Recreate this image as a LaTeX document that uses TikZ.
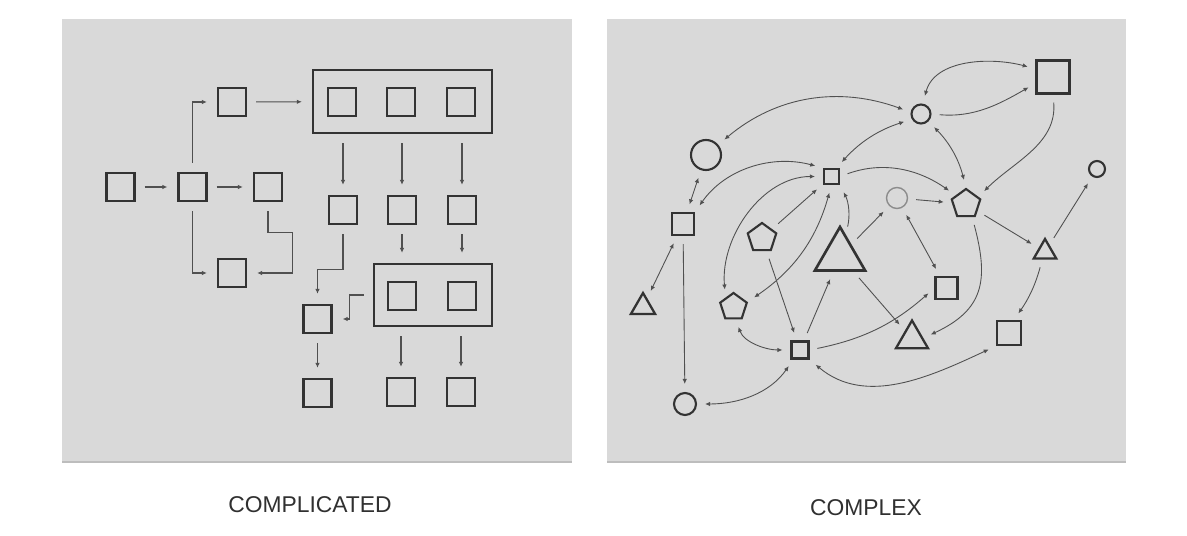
\documentclass[tikz,border=0pt]{standalone}
\usepackage{fontspec}
\setmainfont{Liberation Sans}
\usetikzlibrary{arrows.meta, shapes.geometric}
\definecolor{panelgray}{HTML}{D9D9D9}
\definecolor{edgegray}{HTML}{BDBDBD}
\definecolor{nodegray}{HTML}{333333}
\definecolor{linkgray}{HTML}{505050}
\definecolor{fadegray}{HTML}{8C8C8C}
\definecolor{textgray}{HTML}{303030}

\begin{document}
\begin{tikzpicture}[
        x=0.02cm, y=0.02cm,
        panel/.style = {fill=panelgray, draw=none},
        rim/.style   = {draw=edgegray, line width=1.2pt},
        sq/.style    = {draw=nodegray, line width=1.3pt, minimum size=0.56cm, inner sep=0},
        grp/.style   = {draw=nodegray, line width=1.3pt, inner sep=0},
        rsq/.style   = {draw=nodegray, line width=1.2pt, inner sep=0},
        ring/.style  = {circle, draw=nodegray, line width=1.2pt, inner sep=0},
        penta/.style = {regular polygon, regular polygon sides=5, draw=nodegray, line width=1.2pt, inner sep=0},
        trio/.style  = {regular polygon, regular polygon sides=3, draw=nodegray, line width=1.3pt, inner sep=0},
        ar/.style    = {-{Latex[length=1mm, width=0.9mm]}, draw=linkgray, line width=0.6pt, shorten <=0.18cm, shorten >=0.2cm},
        lk1/.style   = {-{Latex[length=1mm, width=0.9mm]}, draw=linkgray, line width=0.5pt, shorten <=0.16cm, shorten >=0.16cm},
        lk2/.style   = {{Latex[length=1mm, width=0.9mm]}-{Latex[length=1mm, width=0.9mm]}, draw=linkgray, line width=0.5pt, shorten <=0.16cm, shorten >=0.16cm},
        lbl/.style   = {font=\fontsize{13pt}{15pt}\selectfont, text=textgray}
    ]
        \useasboundingbox (0,0) rectangle (1187,-536);

        \fill[panel] (62,-19) rectangle (572,-462);
        \fill[panel] (607,-19) rectangle (1126,-462);
        \draw[rim] (62,-462) -- (572,-462);
        \draw[rim] (607,-462) -- (1126,-462);

        % complicated
        \node[sq] (a1) at (120.5,-187) {};
        \node[sq] (a2) at (192.5,-187) {};
        \node[sq] (a3) at (268,-187)   {};
        \node[sq] (up) at (232,-102)   {};
        \node[sq] (dn) at (232,-273)   {};

        \node[grp, minimum width=3.58cm, minimum height=1.26cm] (g1) at (402.5,-101.5) {};
        \node[sq] (r1) at (342,-102) {};
        \node[sq] (r2) at (401,-102) {};
        \node[sq] (r3) at (461,-102) {};

        \node[sq] (m1) at (343,-210) {};
        \node[sq] (m2) at (402,-210) {};
        \node[sq] (m3) at (462,-210) {};

        \node[grp, minimum width=2.36cm, minimum height=1.24cm] (g2) at (433,-295) {};
        \node[sq] (k1) at (402,-296) {};
        \node[sq] (k2) at (462,-296) {};
        \node[sq] (lf) at (317.5,-319) {};

        \node[sq] (z1) at (317.5,-393) {};
        \node[sq] (z2) at (401,-392)   {};
        \node[sq] (z3) at (461,-392)   {};

        \draw[ar] (a1) -- (a2);
        \draw[ar] (a2) -- (a3);
        \draw[ar] (a2.north) |- (up.west);
        \draw[ar] (a2.south) |- (dn.west);
        \draw[ar] (a3.south) -- ++(0,-30) -| ([shift={(45,0)}]dn.east) -- (dn.east);
        \draw[ar] (up) -- (g1);
        \draw[ar] (m1 |- g1.south) -- (m1);
        \draw[ar] (m2 |- g1.south) -- (m2);
        \draw[ar] (m3 |- g1.south) -- (m3);
        \draw[ar] (m2) -- (m2 |- g2.north);
        \draw[ar] (m3) -- (m3 |- g2.north);
        \draw[ar] (m1.south) -- ++(0,-44) -| (lf.north);
        \draw[ar] (g2.west) -- ++(-23,0) |- (lf.east);
        \draw[ar] (lf) -- (z1);
        \draw[ar] (z2 |- g2.south) -- (z2);
        \draw[ar] (z3 |- g2.south) -- (z3);

        % complex
        \node[rsq, minimum size=0.66cm] (Q1) at (1053,-77)    {};
        \node[ring, minimum size=0.38cm] (C1) at (921,-114)   {};
        \node[ring, minimum size=0.6cm]  (C2) at (706,-155)   {};
        \node[rsq, minimum size=0.44cm] (S1) at (683,-224)    {};
        \node[rsq, minimum size=0.3cm]  (q)  at (831.5,-176.5) {};
        \node[penta, minimum size=0.6cm] (P1) at (762,-238)   {};
        \node[trio, minimum size=1.16cm, line width=1.5pt] (T1) at (840,-256) {};
        \node[trio, minimum size=0.56cm] (T2) at (643,-307)   {};
        \node[penta, minimum size=0.56cm] (P2) at (733.5,-307) {};
        \node[rsq, minimum size=0.34cm] (q2) at (800,-350)    {};
        \node[ring, minimum size=0.44cm] (C3) at (685,-404)   {};
        \node[ring, minimum size=0.42cm, draw=fadegray, line width=0.8pt] (C4) at (897,-198) {};
        \node[penta, minimum size=0.6cm] (P3) at (966,-204)   {};
        \node[ring, minimum size=0.32cm] (C5) at (1097,-169)  {};
        \node[trio, minimum size=0.52cm] (T3) at (1045,-252)  {};
        \node[rsq, minimum size=0.44cm] (S2) at (946.5,-288)  {};
        \node[trio, minimum size=0.74cm] (T4) at (912,-339)   {};
        \node[rsq, minimum size=0.48cm] (S3) at (1009,-333)   {};

        \draw[lk2] (C1.80) to[out=75, in=165] (Q1.155);
        \draw[lk1] (C1.east) to[out=-5, in=210] (Q1.200);
        \draw[lk1] (Q1.south) to[out=-85, in=45] (P3.30);
        \draw[lk2] (C1.-45) to[bend left=15] (P3.north);
        \draw[lk2] (C1.170) to[out=160, in=40] (C2.40);
        \draw[lk2] (C1.210) to[bend right=15] (q.60);
        \draw[lk1] (q.east) to[out=20, in=145] (P3.140);
        \draw[lk1] (C4) -- (P3);
        \draw[lk1] (P3) -- (T3);
        \draw[lk1] (T3) -- (C5);
        \draw[lk1] (T3.250) to[bend left=10] (S3.70);
        \draw[lk1] (P3.-65) to[out=-75, in=25, looseness=1.3] (T4.5);
        \draw[lk2] (C4) -- (S2);
        \draw[lk1] (T1) -- (C4);
        \draw[lk1] (T1.75) to[bend right=20] (q.-45);
        \draw[lk1] (T1) -- (T4);
        \draw[lk1] (q2) -- (T1);
        \draw[lk1] (P1) -- (q2);
        \draw[lk1] (P1) -- (q);
        \draw[lk1] (q2.east) to[bend right=15] (S2.west);
        \draw[lk2] (P2.-80) to[out=-70, in=180] (q2.west);
        \draw[lk2] (q2.235) to[out=-125, in=0] (C3.east);
        \draw[lk2] (q2.-45) to[out=-40, in=205] (S3.225);
        \draw[lk1] (S1) -- (C3);
        \draw[lk2] (S1) -- (T2);
        \draw[lk2] (C2) -- (S1);
        \draw[lk2] (S1.north east) to[out=55, in=165] (q.north west);
        \draw[lk2] (P2.130) to[out=95, in=180] (q.west);
        \draw[lk2] (q.south) to[bend left=20] (P2.20);

        \node[lbl] (lc) at (310,-505) {COMPLICATED};
        \node[lbl] (rc) at (866,-508) {COMPLEX};
    \end{tikzpicture}
\end{document}
